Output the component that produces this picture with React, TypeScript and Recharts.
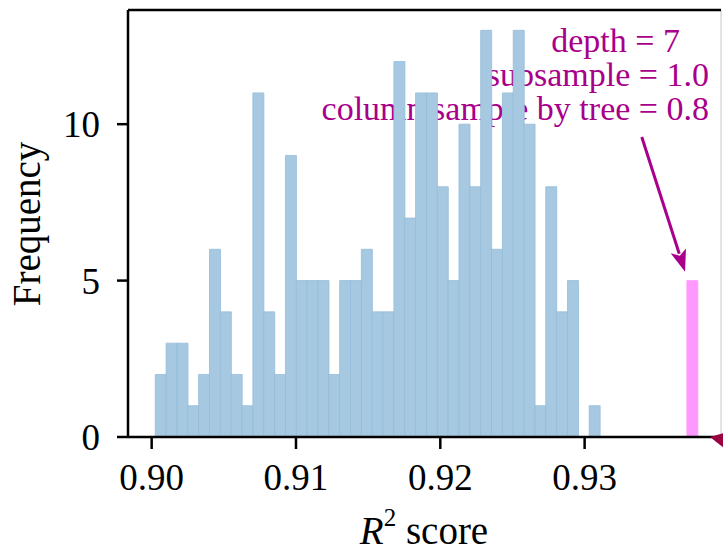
import React from 'react';
import { ComposedChart, Bar, XAxis, YAxis, ReferenceLine, ReferenceDot, Customized } from 'recharts';

const FONT = "'Liberation Serif', 'Times New Roman', serif";
const PURPLE = '#a8008a';

// Histogram bins (centers) and their counts
const binCenters = [
  0.900625, 0.901376, 0.902128, 0.90288, 0.903631, 0.904383, 0.905134, 0.905886,
  0.906638, 0.907389, 0.908141, 0.908892, 0.909644, 0.910396, 0.911147, 0.911899,
  0.91265, 0.913402, 0.914154, 0.914905, 0.915657, 0.916408, 0.91716, 0.917912,
  0.918663, 0.919415, 0.920166, 0.920918, 0.92167, 0.922421, 0.923173, 0.923924,
  0.924676, 0.925428, 0.926179, 0.926931, 0.927682, 0.928434, 0.929186, 0.929937,
  0.930689,
];
const counts = [
  2, 3, 3, 1, 2, 6, 4, 2, 1, 11, 4, 2, 9, 5, 5, 5, 2, 5, 5, 6, 4, 4, 12, 7,
  11, 11, 8, 5, 10, 8, 13, 6, 11, 13, 10, 1, 8, 4, 5, 0, 1,
];
const bestCenter = 0.93746;
const bestCount = 5;

const xTicks = [0.9, 0.91, 0.92, 0.93];
const yTicks = [0, 5, 10];
const xDomain = [0.89836, 0.93945];
const yDomain = [0, 13.65];

const annotationLines = ['depth = 7', 'subsample = 1.0', 'column sample by tree = 0.8'];
const arrowFrom = { x: 0.93396, y: 9.59 };
const arrowTo = { x: 0.93696, y: 5.28 };

const data = [
  ...binCenters.map((x, i) => ({ x, count: counts[i], best: 0 })),
  { x: bestCenter, count: 0, best: bestCount },
];

const ArrowShape = (props: any) => {
  const { x1, y1, x2, y2 } = props;
  const dx = x2 - x1;
  const dy = y2 - y1;
  const len = Math.hypot(dx, dy) || 1;
  const ux = dx / len;
  const uy = dy / len;
  const headLen = 22;
  const headW = 8;
  const bx = x2 - ux * headLen;
  const by = y2 - uy * headLen;
  const px = -uy;
  const py = ux;
  return (
    <g>
      <line x1={x1} y1={y1} x2={bx + ux * 3} y2={by + uy * 3} stroke={PURPLE} strokeWidth={3} />
      <polygon
        points={`${x2},${y2} ${bx + px * headW},${by + py * headW} ${bx + ux * 5},${by + uy * 5} ${bx - px * headW},${by - py * headW}`}
        fill={PURPLE}
      />
    </g>
  );
};

const CornerMark = (props: any) => {
  const { cx, cy } = props;
  return <polygon points={`${cx - 11},${cy} ${cx + 3},${cy - 4} ${cx + 3},${cy + 11}`} fill="#9b0040" />;
};

const Texts = () => (
  <g fontFamily={FONT}>
    <text x={680} y={52} fontSize={34} fill={PURPLE} textAnchor="end">{annotationLines[0]}</text>
    <text x={709} y={85.5} fontSize={34} fill={PURPLE} textAnchor="end">{annotationLines[1]}</text>
    <text x={709} y={119.5} fontSize={34} fill={PURPLE} textAnchor="end">{annotationLines[2]}</text>
    <text x={40} y={224} fontSize={39} fill="#000" textAnchor="middle" transform="rotate(-90, 40, 224)">
      Frequency
    </text>
    <text x={424} y={544} fontSize={39} fill="#000" textAnchor="middle">
      <tspan fontStyle="italic">R</tspan>
      <tspan fontSize={25} dy={-18}>2</tspan>
      <tspan dy={18}>{'\u00a0score'}</tspan>
    </text>
  </g>
);

const tickStyle = { fontSize: 37, fill: '#000', fontFamily: FONT };
const lineStyle = { stroke: '#000', strokeWidth: 2.5 };

export default function App() {
  return (
    <div style={{ position: 'absolute', left: 0, top: 0, background: '#fff' }}>
      <ComposedChart
        width={723}
        height={553}
        data={data}
        margin={{ top: 10, right: 2, left: 0, bottom: 0 }}
        barCategoryGap={0}
        barGap={0}
      >
        <XAxis
          type="number"
          dataKey="x"
          domain={xDomain}
          allowDataOverflow
          ticks={xTicks}
          tickFormatter={(v: number) => v.toFixed(2)}
          height={116}
          tickSize={12}
          tickMargin={15}
          tick={tickStyle}
          axisLine={lineStyle}
          tickLine={lineStyle}
        />
        <YAxis
          type="number"
          domain={yDomain}
          allowDataOverflow
          ticks={yTicks}
          width={128}
          tickSize={11}
          tickMargin={17}
          tick={tickStyle}
          axisLine={lineStyle}
          tickLine={lineStyle}
        />
        <Bar dataKey="count" stackId="h" fill="#a6c9e1" stroke="#94bcd9" strokeWidth={0.8} isAnimationActive={false} />
        <Bar dataKey="best" stackId="h" fill="#ff99ff" stroke="#ff99ff" strokeWidth={0.8} isAnimationActive={false} />
        <ReferenceLine x={xDomain[1]} ifOverflow="visible" stroke="#c8c8c8" strokeWidth={1} />
        <ReferenceLine y={yDomain[1]} ifOverflow="visible" stroke="#000" strokeWidth={2.5} />
        <ReferenceLine
          segment={[arrowFrom, arrowTo]}
          ifOverflow="visible"
          shape={ArrowShape}
        />
        <ReferenceDot x={xDomain[1]} y={0} ifOverflow="visible" shape={CornerMark} />
        <Customized component={<Texts />} />
      </ComposedChart>
    </div>
  );
}
